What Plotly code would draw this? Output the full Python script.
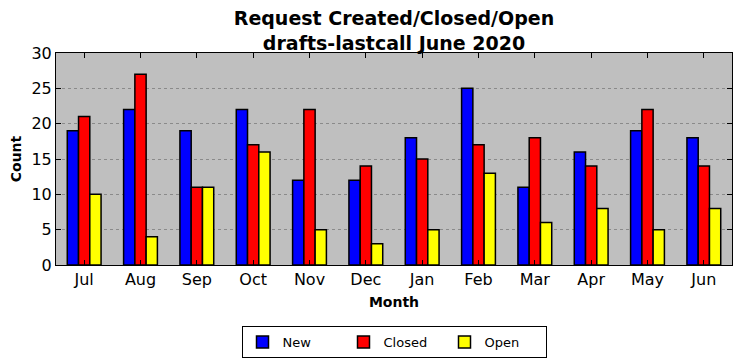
import plotly.graph_objects as go

months = ["Jul", "Aug", "Sep", "Oct", "Nov", "Dec", "Jan", "Feb", "Mar", "Apr", "May", "Jun"]
new_vals = [19, 22, 19, 22, 12, 12, 18, 25, 11, 16, 19, 18]
closed_vals = [21, 27, 11, 17, 22, 14, 15, 17, 18, 14, 22, 14]
open_vals = [10, 4, 11, 16, 5, 3, 5, 13, 6, 8, 5, 8]
series = [("New", new_vals, "#0000ff"), ("Closed", closed_vals, "#ff0000"), ("Open", open_vals, "#ffff00")]

fig = go.Figure()
for name, vals, col in series:
    fig.add_trace(go.Bar(x=months, y=vals, name=name, marker=dict(color=col, line=dict(color="black", width=1.5))))

font = "DejaVu Sans"
fig.update_layout(
    width=734, height=353,
    margin=dict(l=48, r=10, t=45, b=96, autoexpand=False),
    paper_bgcolor="white", plot_bgcolor="#bfbfbf",
    barmode="group", bargap=0.4, bargroupgap=0,
    font=dict(family=font, size=15, color="black"),
    title=dict(text="<b>Request Created/Closed/Open<br>drafts-lastcall June 2020</b>",
               x=0.5, xanchor="center", xref="paper", yref="container", y=0.951, yanchor="top",
               font=dict(family=font, size=19, color="black")),
    showlegend=True,
    legend=dict(orientation="h", x=0.5, xanchor="center", y=-0.288, yanchor="top",
                bordercolor="black", borderwidth=1, bgcolor="white", itemwidth=30,
                entrywidth=56, entrywidthmode="pixels",
                font=dict(family=font, size=13), traceorder="normal"),
)
fig.update_xaxes(
    automargin=False,
    showline=True, linecolor="black", linewidth=1, mirror="ticks",
    ticks="inside", ticklen=5, tickcolor="black",
    title=dict(text="<b>Month</b>", font=dict(family=font, size=14), standoff=8),
    tickfont=dict(family=font, size=16),
)
fig.update_yaxes(
    automargin=False,
    range=[0, 30], dtick=5, showline=True, linecolor="black", linewidth=1, mirror="ticks",
    ticks="inside", ticklen=5, tickcolor="black",
    showgrid=True, gridcolor="#8a8a8a", griddash="dot", gridwidth=1,
    zeroline=False,
    title=dict(text="<b>Count</b>", font=dict(family=font, size=14), standoff=6),
    tickfont=dict(family=font, size=16),
)
fig.write_html("out.html")
